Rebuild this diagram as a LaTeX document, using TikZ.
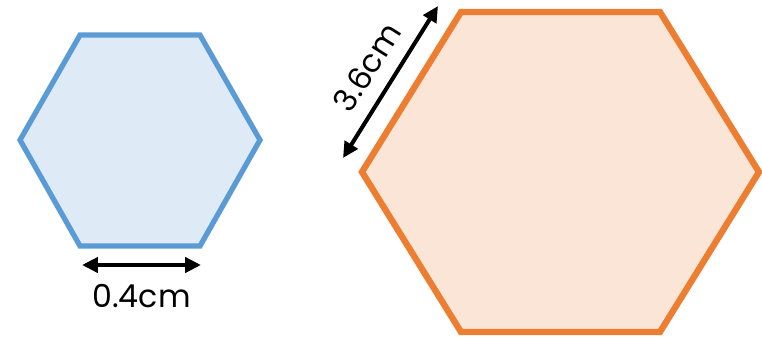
\documentclass[tikz,border=0pt]{standalone}
\usepackage{fontspec}
\setmainfont{Poppins}
\usetikzlibrary{arrows.meta}

\definecolor{hexblue}{HTML}{5B9BD5}
\definecolor{hexbluefill}{HTML}{DEEBF7}
\definecolor{hexorange}{HTML}{ED7D31}
\definecolor{hexorangefill}{HTML}{FBE5D6}

\begin{document}
\begin{tikzpicture}[x=0.02cm, y=-0.02cm,
  dimarrow/.style={black, line width=2.3pt, {Triangle[length=9pt, width=8.5pt]}-{Triangle[length=9pt, width=8.5pt]}},
  dimlabel/.style={font=\fontsize{18}{21}\selectfont, inner sep=2pt}]
\useasboundingbox (0,0) rectangle (762,336);

% small hexagon
\filldraw[draw=hexblue, fill=hexbluefill, line width=3pt, line join=miter]
  (20,140) -- (80,35) -- (200,35) -- (260,140) -- (200,246) -- (80,246) -- cycle;

% large hexagon
\filldraw[draw=hexorange, fill=hexorangefill, line width=3.6pt, line join=miter]
  (362,172) -- (461,12) -- (660,12) -- (759,172) -- (660,332) -- (461,332) -- cycle;

% side lengths
\coordinate (s1) at (82,265);
\coordinate (s2) at (201,265);
\draw[dimarrow] (s1) -- node[dimlabel, below=8pt] {0.4cm} (s2);

\coordinate (b1) at (343,158);
\coordinate (b2) at (438,6);
\draw[dimarrow] (b1) -- node[dimlabel, sloped, above=6pt] {3.6cm} (b2);
\end{tikzpicture}
\end{document}
